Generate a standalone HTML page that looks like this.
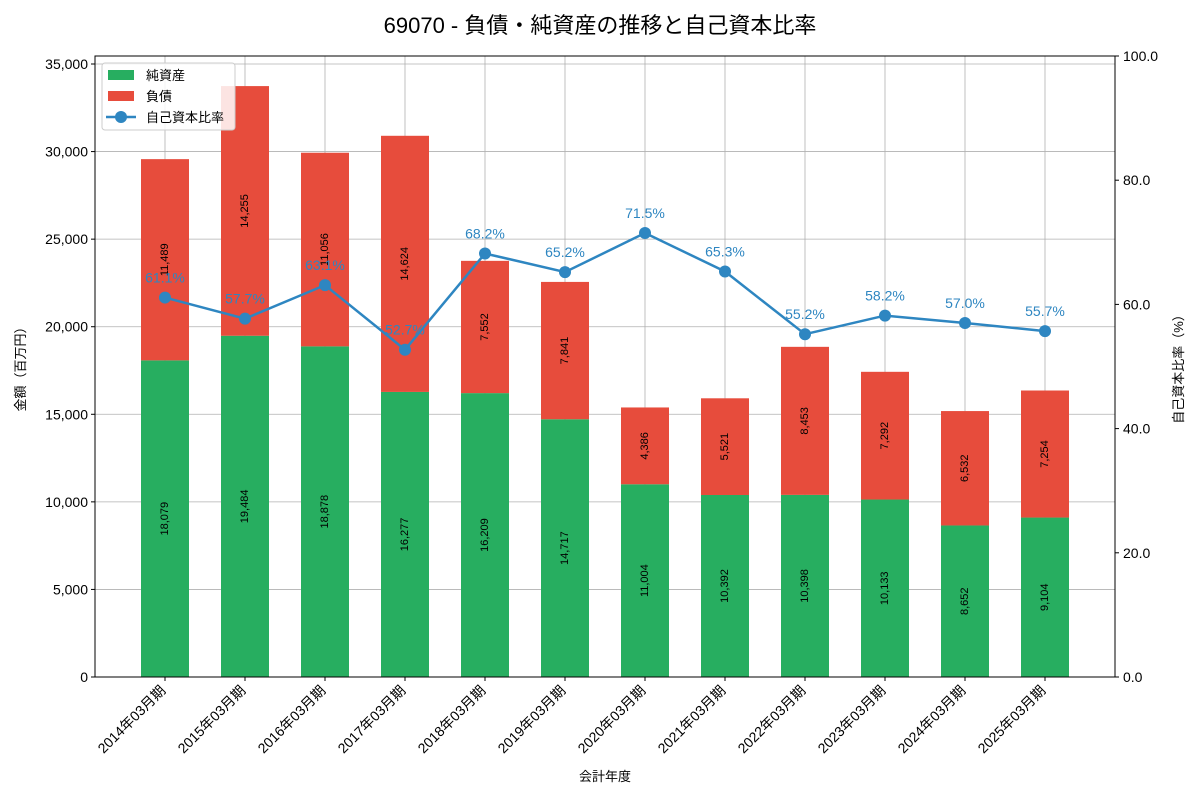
<!DOCTYPE html>
<html><head><meta charset="utf-8"><style>
body{margin:0;background:#fff;}
svg{font-family:"Liberation Sans","Noto Sans CJK JP",sans-serif;}
</style></head><body>
<svg id="c" width="1200" height="800" xmlns="http://www.w3.org/2000/svg"></svg>
<script>
const categories=["2014年03月期","2015年03月期","2016年03月期","2017年03月期","2018年03月期","2019年03月期","2020年03月期","2021年03月期","2022年03月期","2023年03月期","2024年03月期","2025年03月期"];
const netAssets=[18079,19484,18878,16277,16209,14717,11004,10392,10398,10133,8652,9104];
const liabilities=[11489,14255,11056,14624,7552,7841,4386,5521,8453,7292,6532,7254];
const ratios=[61.1,57.7,63.1,52.7,68.2,65.2,71.5,65.3,55.2,58.2,57.0,55.7];
const leftTicks=[0,5000,10000,15000,20000,25000,30000,35000];
const rightTicks=[0,20,40,60,80,100];

const svg=document.getElementById('c');const NS="http://www.w3.org/2000/svg";
const L=95,R=1115,T=56,B=677;
const yL=v=>B-v/35457*(B-T);
const yR=v=>B-v/100*(B-T);
const xC=i=>L+(i+0.875)*80;
function mk(tag,a,txt){const e=document.createElementNS(NS,tag);for(const k in a)e.setAttribute(k,a[k]);if(txt!==undefined)e.textContent=txt;svg.appendChild(e);return e;}
const fmt=v=>v.toLocaleString('en-US');

leftTicks.forEach(t=>{const e=mk('line',{x1:L,x2:R,y1:yL(t),y2:yL(t),stroke:'#b0b0b0','stroke-width':0.8});

});
categories.forEach((c,i)=>{const e=mk('line',{x1:xC(i),x2:xC(i),y1:T,y2:B,stroke:'#b0b0b0','stroke-width':0.8});

});

categories.forEach((c,i)=>{
 const x=xC(i)-24;
 const g=mk('rect',{x:x,y:yL(netAssets[i]),width:48,height:B-yL(netAssets[i]),fill:'#27ae60'});
 
 
 const top=netAssets[i]+liabilities[i];
 const r=mk('rect',{x:x,y:yL(top),width:48,height:yL(netAssets[i])-yL(top),fill:'#e74c3c'});
 
 
 const ym=yL(netAssets[i]/2);
 const t1=mk('text',{x:xC(i),y:ym,'font-size':11,'text-anchor':'middle','dominant-baseline':'central',transform:`rotate(-90 ${xC(i)} ${ym})`},fmt(netAssets[i]));
 
 
 const ym2=yL(netAssets[i]+liabilities[i]/2);
 const t2=mk('text',{x:xC(i),y:ym2,'font-size':11,'text-anchor':'middle','dominant-baseline':'central',transform:`rotate(-90 ${xC(i)} ${ym2})`},fmt(liabilities[i]));
 
 
});

const pts=ratios.map((v,i)=>xC(i)+','+yR(v)).join(' ');
const pl=mk('polyline',{points:pts,fill:'none',stroke:'#2e86c1','stroke-width':2.5});


ratios.forEach((v,i)=>{
 const c=mk('circle',{cx:xC(i),cy:yR(v),r:6,fill:'#2e86c1'});
 
 
 const t=mk('text',{x:xC(i),y:yR(v)-15,'font-size':14,'text-anchor':'middle',fill:'#2e86c1'},v.toFixed(1)+'%');
 
 
});

const fr=mk('rect',{x:L,y:T,width:R-L,height:B-T,fill:'none',stroke:'#000','stroke-width':1});


leftTicks.forEach(t=>{mk('line',{x1:L-4,x2:L,y1:yL(t),y2:yL(t),stroke:'#000'});
 const e=mk('text',{x:L-7,y:yL(t)+5,'font-size':14,'text-anchor':'end'},fmt(t));
 
 });
rightTicks.forEach(t=>{mk('line',{x1:R,x2:R+4,y1:yR(t),y2:yR(t),stroke:'#000'});
 const e=mk('text',{x:R+8,y:yR(t)+5,'font-size':14},t.toFixed(1));
 
 });
categories.forEach((c,i)=>{mk('line',{x1:xC(i),x2:xC(i),y1:B,y2:B+4,stroke:'#000'});
 const x=xC(i)-6,y=B+7;
 const e=mk('text',{x:x,y:y,'font-size':14,'text-anchor':'end','dominant-baseline':'hanging',transform:`rotate(-45 ${x} ${y})`},c);
 
 });

let e;
e=mk('text',{x:600,y:33,'font-size':22,'text-anchor':'middle'},'69070 - 負債・純資産の推移と自己資本比率');

e=mk('text',{x:605,y:781,'font-size':13,'text-anchor':'middle'},'会計年度');

e=mk('text',{x:25,y:366,'font-size':13,'text-anchor':'middle',transform:'rotate(-90 25 366)'},'金額（百万円）');

e=mk('text',{x:1183,y:366,'font-size':13,'text-anchor':'middle',transform:'rotate(-90 1183 366)'},'自己資本比率（%）');


e=mk('rect',{x:102,y:63,width:133,height:67,fill:'#fff','fill-opacity':0.85,stroke:'#ccc',rx:3});

mk('rect',{x:108,y:70,width:26,height:10,fill:'#27ae60'});
e=mk('text',{x:146,y:80,'font-size':13},'純資産');
mk('rect',{x:108,y:91,width:26,height:10,fill:'#e74c3c'});
e=mk('text',{x:146,y:101,'font-size':13},'負債');
mk('line',{x1:106,x2:136,y1:117,y2:117,stroke:'#2e86c1','stroke-width':2.5});
mk('circle',{cx:121,cy:117,r:6,fill:'#2e86c1'});
e=mk('text',{x:146,y:122,'font-size':13},'自己資本比率');
</script>
</body></html>
